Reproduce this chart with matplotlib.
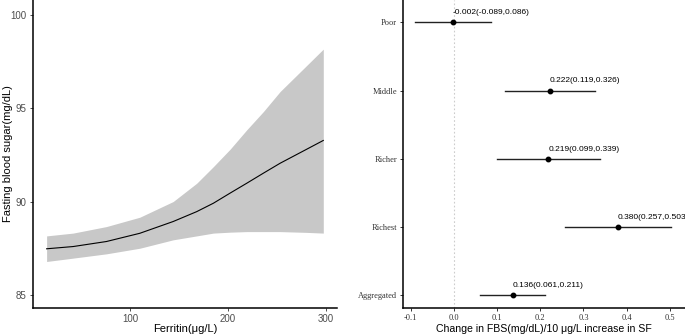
import matplotlib.pyplot as plt

# curva ferritina vs glucosa
ferritina = [15, 42, 76, 110, 144, 168, 185, 202, 219, 236, 253, 279, 297]
fbs_media = [87.47, 87.59, 87.86, 88.3, 88.93, 89.46, 89.91, 90.45, 90.98, 91.52, 92.05, 92.77, 93.27]
fbs_sup = [88.16, 88.31, 88.66, 89.16, 90.0, 90.98, 91.87, 92.8, 93.84, 94.82, 95.89, 97.23, 98.16]
fbs_inf = [86.79, 86.97, 87.2, 87.5, 87.95, 88.16, 88.31, 88.36, 88.39, 88.39, 88.39, 88.35, 88.31]

# forest plot por nivel economico
grupos = ["Poor", "Middle", "Richer", "Richest", "Aggregated"]
estim = [-0.002, 0.222, 0.219, 0.380, 0.136]
ic_inf = [-0.089, 0.119, 0.099, 0.257, 0.061]
ic_sup = [0.086, 0.326, 0.339, 0.503, 0.211]

fig = plt.figure(figsize=(6.85, 3.35), dpi=100)

ax1 = fig.add_axes([0.048, 0.0806, 0.444, 0.9194])
ax1.fill_between(ferritina, fbs_inf, fbs_sup, color="#c8c8c8", lw=0)
ax1.plot(ferritina, fbs_media, color="black", lw=0.8)
ax1.set_xlim(1, 311)
ax1.set_ylim(84.3, 100.79)
ax1.set_xticks([100, 200, 300])
ax1.set_yticks([85, 90, 95, 100])
ax1.set_xlabel("Ferritin(μg/L)", fontsize=8, family="Liberation Sans", va="center")
ax1.xaxis.set_label_coords(0.5, -0.068)
ax1.set_ylabel("Fasting blood sugar(mg/dL)", fontsize=8, family="Liberation Sans")
ax1.yaxis.set_label_coords(-0.066, 0.5)
for s in ["top", "right"]:
    ax1.spines[s].set_visible(False)
for s in ["left", "bottom"]:
    ax1.spines[s].set_linewidth(1.1)
ax1.tick_params(labelsize=7, colors="#4d4d4d", length=2.5, width=0.7, pad=2)
for t in ax1.get_xticklabels() + ax1.get_yticklabels():
    t.set_family("Liberation Sans")

ax2 = fig.add_axes([0.5888, 0.0806, 0.4112, 0.9194])
pos = [5, 4, 3, 2, 1]
ax2.axvline(0, color="#cccccc", lw=0.8, ls=(0, (1.5, 2)))
for y, e, lo, hi in zip(pos, estim, ic_inf, ic_sup):
    ax2.plot([lo, hi], [y, y], color="#222222", lw=1.0)
    ax2.plot(e, y, "o", color="black", ms=3.2)
    ax2.annotate("%.3f(%.3f,%.3f)" % (e, lo, hi), (e, y), xytext=(0, 4.5), textcoords="offset points",
                 fontsize=6, family="Liberation Sans", ha="left", va="bottom", annotation_clip=False)
ax2.set_xlim(-0.117, 0.535)
ax2.set_ylim(0.81, 5.33)
ax2.set_yticks(pos)
ax2.set_yticklabels(grupos)
ax2.set_xticks([-0.1, 0.0, 0.1, 0.2, 0.3, 0.4, 0.5])
ax2.set_xticklabels(["-0.1", "0.0", "0.1", "0.2", "0.3", "0.4", "0.5"])
ax2.set_xlabel("Change in FBS(mg/dL)/10 μg/L increase in SF", fontsize=7.6, family="Liberation Sans", va="center")
ax2.xaxis.set_label_coords(0.5, -0.068)
for s in ["top", "right"]:
    ax2.spines[s].set_visible(False)
for s in ["left", "bottom"]:
    ax2.spines[s].set_linewidth(1.1)
ax2.tick_params(labelsize=6, colors="#333333", length=2.5, width=0.7, pad=2)
for t in ax2.get_xticklabels() + ax2.get_yticklabels():
    t.set_family("Liberation Serif")

fig.savefig("out.png", dpi=100)
